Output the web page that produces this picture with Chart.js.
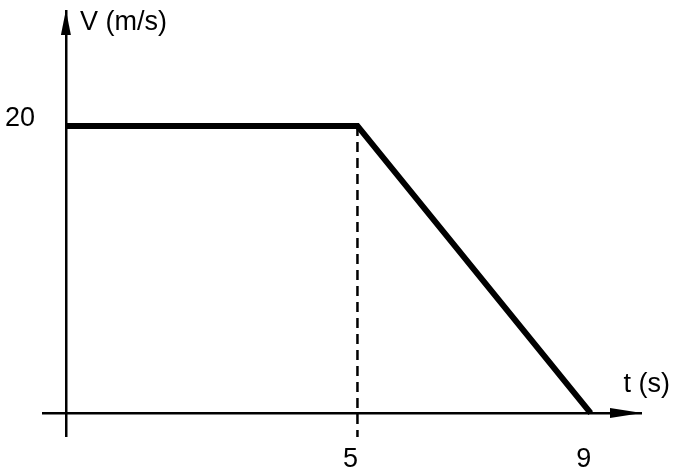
<!DOCTYPE html>
<html>
<head>
<meta charset="utf-8">
<script src="https://cdn.jsdelivr.net/npm/chart.js@4/dist/chart.umd.min.js"></script>
<style>
  html, body { margin: 0; padding: 0; background: #ffffff; }
  #wrap { width: 677px; height: 468px; position: relative; }
</style>
</head>
<body>
<div id="wrap"><canvas id="c"></canvas></div>
<script>
// ---- data ----
const timePoints = [0, 5, 9];          // t (s)
const velocityValues = [20, 20, 0];    // V (m/s)
const xTickValues = [0, 5, 9];
const xTickLabels = ['', '5', '9'];
const yTickValues = [0, 20];
const yTickLabels = ['', '20'];
const xAxisTitle = 't (s)';
const yAxisTitle = 'V (m/s)';
const dashedAt = 5;

const X_MIN = -0.41, X_MAX = 9.88;
const Y_MIN = -1.67, Y_MAX = 28.08;

const FONT = '"Liberation Sans", Arial, sans-serif';
const FONT_SIZE = 27;

const mainData = timePoints.map((t, i) => ({ x: t, y: velocityValues[i] }));
const dashedData = [{ x: dashedAt, y: velocityValues[timePoints.indexOf(dashedAt)] }, { x: dashedAt, y: Y_MIN }];

const arrowPlugin = {
  id: 'arrows',
  afterDatasetsDraw(chart) {
    const ctx = chart.ctx;
    const xs = chart.scales.x, ys = chart.scales.y;
    const ca = chart.chartArea;
    const x0 = xs.getPixelForValue(0);
    const y0 = ys.getPixelForValue(0);
    ctx.save();
    ctx.fillStyle = '#000';
    // y-axis arrow (up)
    ctx.beginPath();
    ctx.moveTo(x0, ca.top);
    ctx.lineTo(x0 - 5, ca.top + 25);
    ctx.lineTo(x0 + 5, ca.top + 25);
    ctx.closePath();
    ctx.fill();
    // x-axis arrow (right)
    ctx.beginPath();
    ctx.moveTo(ca.right, y0);
    ctx.lineTo(ca.right - 32, y0 - 5);
    ctx.lineTo(ca.right - 32, y0 + 5);
    ctx.closePath();
    ctx.fill();
    // axis titles
    ctx.font = FONT_SIZE + 'px ' + FONT;
    ctx.textBaseline = 'middle';
    ctx.textAlign = 'left';
    ctx.fillText(yAxisTitle, x0 + 14, ca.top + 13);
    ctx.textAlign = 'right';
    ctx.fillText(xAxisTitle, ca.right + 28, y0 - 28);
    ctx.restore();
  }
};

new Chart(document.getElementById('c'), {
  type: 'scatter',
  data: {
    datasets: [
      {
        data: mainData,
        showLine: true,
        borderColor: '#000',
        borderWidth: 6,
        pointRadius: 0,
        fill: false,
        tension: 0,
        borderJoinStyle: 'miter'
      },
      {
        data: dashedData,
        showLine: true,
        borderColor: '#000',
        borderWidth: 2.5,
        borderDash: [10, 6],
        pointRadius: 0,
        fill: false
      }
    ]
  },
  options: {
    responsive: true,
    maintainAspectRatio: false,
    animation: false,
    layout: { padding: { top: 10, right: 35, left: 0, bottom: 0 } },
    plugins: { legend: { display: false }, tooltip: { enabled: false } },
    scales: {
      x: {
        type: 'linear',
        min: X_MIN, max: X_MAX,
        afterBuildTicks(scale) { scale.ticks = xTickValues.map(v => ({ value: v })); },
        afterFit(scale) { scale.height = 31; scale.paddingLeft = 0; scale.paddingRight = 0; },
        border: { display: false },
        grid: {
          drawTicks: false,
          lineWidth: 2.5,
          color: ctx => (ctx.tick && ctx.tick.value === 0) ? '#000' : 'rgba(0,0,0,0)'
        },
        ticks: {
          color: '#000',
          padding: 6,
          labelOffset: -7,
          autoSkip: false,
          maxRotation: 0,
          font: { family: FONT, size: FONT_SIZE },
          callback: (v) => xTickLabels[xTickValues.indexOf(v)] ?? ''
        }
      },
      y: {
        type: 'linear',
        min: Y_MIN, max: Y_MAX,
        afterBuildTicks(scale) { scale.ticks = yTickValues.map(v => ({ value: v })); },
        afterFit(scale) { scale.width = 42; scale.paddingTop = 0; scale.paddingBottom = 0; },
        border: { display: false },
        grid: {
          drawTicks: false,
          lineWidth: 2.5,
          color: ctx => (ctx.tick && ctx.tick.value === 0) ? '#000' : 'rgba(0,0,0,0)'
        },
        ticks: {
          color: '#000',
          padding: 7,
          labelOffset: -7,
          autoSkip: false,
          font: { family: FONT, size: FONT_SIZE },
          callback: (v) => yTickLabels[yTickValues.indexOf(v)] ?? ''
        }
      }
    }
  },
  plugins: [arrowPlugin]
});
</script>
</body>
</html>
